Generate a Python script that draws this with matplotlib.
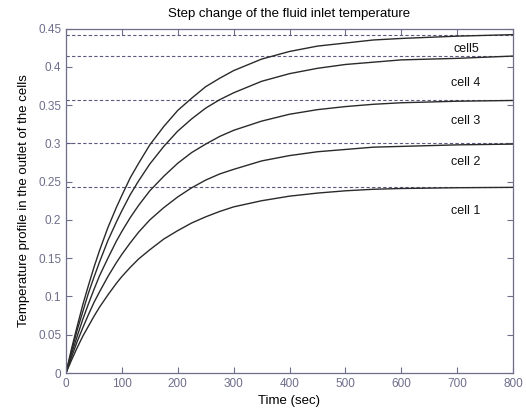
import matplotlib
matplotlib.use('Agg')
import matplotlib.pyplot as plt

# values
time = [0, 10, 20, 30, 40, 50, 60, 75, 90, 100, 115, 130, 150, 175, 200,
        225, 250, 275, 300, 350, 400, 450, 500, 550, 600, 700, 800]
cell1 = [0, 0.017, 0.033, 0.048, 0.061, 0.074, 0.086, 0.102, 0.117, 0.126, 0.138, 0.149, 0.161, 0.175, 0.186,
         0.196, 0.204, 0.211, 0.217, 0.225, 0.231, 0.235, 0.238, 0.240, 0.241, 0.242, 0.2425]
cell2 = [0, 0.021, 0.041, 0.059, 0.076, 0.092, 0.106, 0.126, 0.144, 0.155, 0.170, 0.184, 0.200, 0.216, 0.230,
         0.242, 0.252, 0.260, 0.266, 0.277, 0.284, 0.289, 0.292, 0.295, 0.296, 0.298, 0.299]
cell3 = [0, 0.025, 0.048, 0.070, 0.090, 0.109, 0.127, 0.150, 0.172, 0.185, 0.203, 0.219, 0.238, 0.257, 0.274,
         0.288, 0.299, 0.309, 0.317, 0.329, 0.338, 0.344, 0.348, 0.351, 0.353, 0.355, 0.356]
cell4 = [0, 0.029, 0.056, 0.080, 0.104, 0.125, 0.145, 0.173, 0.197, 0.212, 0.233, 0.251, 0.273, 0.296, 0.316,
         0.332, 0.346, 0.357, 0.366, 0.381, 0.391, 0.398, 0.403, 0.406, 0.409, 0.411, 0.414]
cell5 = [0, 0.032, 0.061, 0.089, 0.114, 0.138, 0.160, 0.190, 0.216, 0.232, 0.255, 0.274, 0.298, 0.322, 0.343,
         0.359, 0.374, 0.385, 0.395, 0.410, 0.420, 0.427, 0.431, 0.435, 0.437, 0.440, 0.442]
curves = [cell1, cell2, cell3, cell4, cell5]

steady = [0.2425, 0.300, 0.357, 0.414, 0.442]
labels = ['cell 1', 'cell 2', 'cell 3', 'cell 4', 'cell5']
label_y = [0.212, 0.275, 0.329, 0.379, 0.423]
label_t = 716

xticks = [0, 100, 200, 300, 400, 500, 600, 700, 800]
yticks = [0, 0.05, 0.1, 0.15, 0.2, 0.25, 0.3, 0.35, 0.4, 0.45]
ytick_labels = ['0', '0.05', '0.1', '0.15', '0.2', '0.25', '0.3', '0.35', '0.4', '0.45']

axis_col = '#6e6e8c'
dash_col = '#5a5a80'

plt.rcParams['font.family'] = ['Liberation Sans', 'DejaVu Sans']

fig = plt.figure(figsize=(5.26, 4.17), dpi=100)
ax = fig.add_axes([66 / 526, 44 / 417, 447 / 526, 344.5 / 417])

for y in steady:
    ax.axhline(y, color=dash_col, lw=0.8, ls=(0, (3, 2)))

for c in curves:
    ax.plot(time, c, color='#2a2a2a', lw=1.0)

for lab, ly in zip(labels, label_y):
    ax.text(label_t, ly, lab, ha='center', va='center', fontsize=9, color='#111111')

ax.set_xlim(0, 800)
ax.set_ylim(0, 0.45)
ax.set_xticks(xticks)
ax.set_yticks(yticks)
ax.set_yticklabels(ytick_labels)
ax.tick_params(direction='in', top=True, right=True, colors=axis_col,
               labelcolor=axis_col, labelsize=8.5, length=4, width=0.8)
for s in ax.spines.values():
    s.set_color(axis_col)
    s.set_linewidth(0.9)

ax.set_title('Step change of the fluid inlet temperature', fontsize=9.5, pad=8)
ax.set_xlabel('Time (sec)', fontsize=9.5, labelpad=4)
ax.set_ylabel('Temperature profile in the outlet of the cells', fontsize=9.5, labelpad=6)

fig.savefig('out.png', dpi=100)
